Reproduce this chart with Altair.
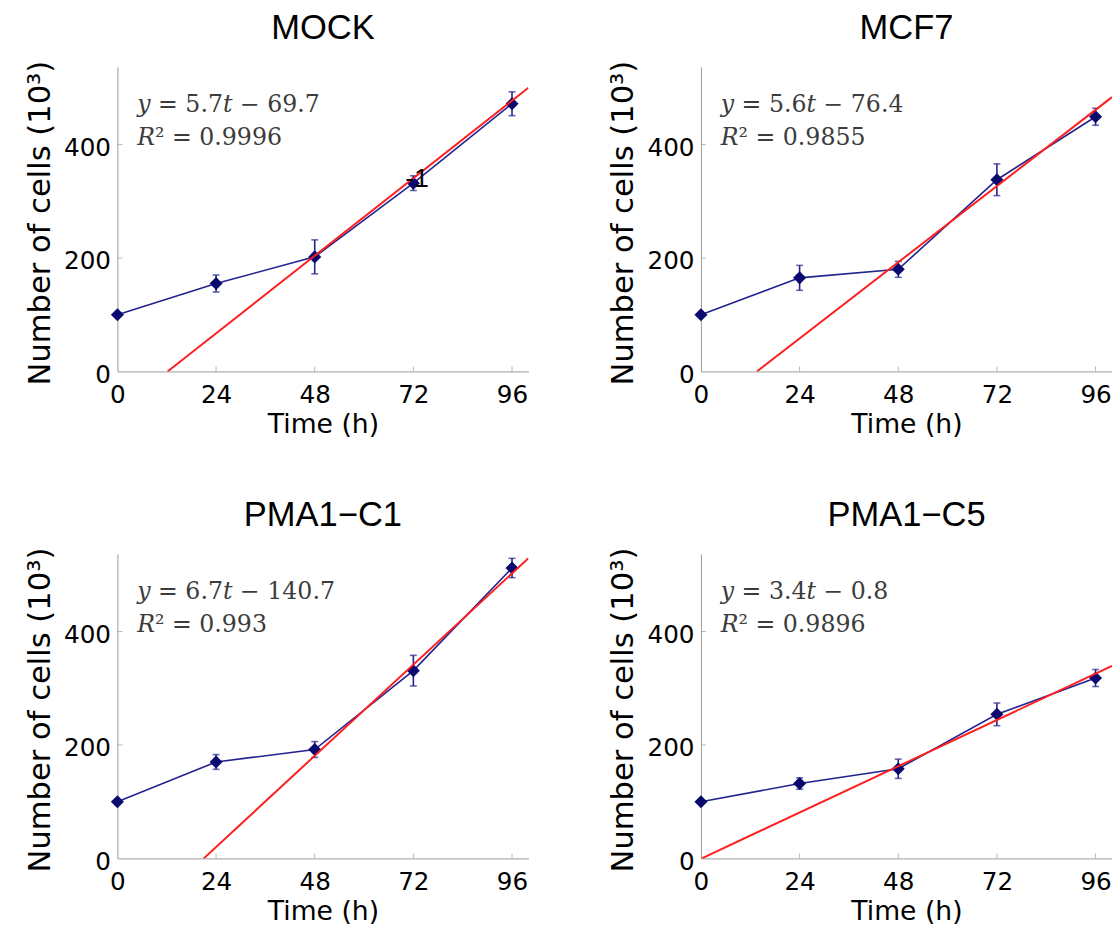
import altair as alt
import pandas as pd

# ---------------- data ----------------
panel_names = ["MOCK", "MCF7", "PMA1\u2212C1", "PMA1\u2212C5"]
time_h = [0, 24, 48, 72, 96]

mock_cells = [100, 155, 202, 332, 472]
mock_err = [0, 15, 30, 13, 21]
mcf7_cells = [100, 165, 180, 338, 449]
mcf7_err = [0, 22, 14, 28, 15]
pma1_c1_cells = [100, 170, 192, 331, 512]
pma1_c1_err = [0, 13, 14, 27, 17]
pma1_c5_cells = [100, 132, 158, 254, 318]
pma1_c5_err = [0, 10, 17, 20, 15]

# fitted (red) line end points
fit_start_t = [12.2, 13.6, 21.0, 0.2]
fit_start_n = [0, 0, 0, 0]
fit_end_t = [100, 100, 100, 100]
fit_end_n = [500.3, 483.6, 529.3, 339.2]

equations = ["\U0001D466 = 5.7\U0001D461 \u2212 69.7",
             "\U0001D466 = 5.6\U0001D461 \u2212 76.4",
             "\U0001D466 = 6.7\U0001D461 \u2212 140.7",
             "\U0001D466 = 3.4\U0001D461 \u2212 0.8"]
r_squared = ["\U0001D445\u00B2 = 0.9996", "\U0001D445\u00B2 = 0.9855",
             "\U0001D445\u00B2 = 0.993", "\U0001D445\u00B2 = 0.9896"]

x_ticks = [0, 24, 48, 72, 96]
y_ticks = [0, 200, 400]

stray_text = ["-1"]
stray_t = [70]
stray_n = [325]

cells_all = [mock_cells, mcf7_cells, pma1_c1_cells, pma1_c5_cells]
err_all = [mock_err, mcf7_err, pma1_c1_err, pma1_c5_err]

# ---------------- styling ----------------
W, H = 417, 309
NAVY_LINE = "#23238f"
NAVY_MARK = "#0a0a6e"
AXIS_GRAY = "#9a9a9a"
SANS = "Liberation Sans"
AXFONT = "DejaVu Sans"

xs = alt.Scale(domain=[0, 100], nice=False, zero=False)
ys = alt.Scale(domain=[0, 537], nice=False, zero=False)

x_axis = alt.Axis(values=x_ticks, title="Time (h)", grid=False, ticks=False, tickSize=0,
                  domainColor=AXIS_GRAY, domainWidth=1,
                  labelFont=AXFONT, labelFontSize=25, labelColor="black",
                  labelPadding=12, labelFlush=False, labelOverlap=False,
                  titleFont=AXFONT, titleFontSize=27, titleFontWeight="normal",
                  titleColor="black", titleBaseline="alphabetic",
                  titleX=W / 2, titleY=62)
y_axis = alt.Axis(values=y_ticks, title="Number of cells (10\u00B3)", grid=False,
                  ticks=False, tickSize=0,
                  domainColor=AXIS_GRAY, domainWidth=1,
                  labelFont=AXFONT, labelFontSize=25, labelColor="black",
                  labelPadding=7, labelFlush=False, labelOverlap=False, labelOffset=3,
                  titleFont=AXFONT, titleFontSize=31, titleFontWeight="normal",
                  titleColor="black", titleBaseline="alphabetic", titleAngle=270,
                  titleX=-69, titleY=158)


def X(field):
    return alt.X(field, type="quantitative", scale=xs, axis=x_axis)


def Y(field):
    return alt.Y(field, type="quantitative", scale=ys, axis=y_axis)


def make_panel(i):
    df = pd.DataFrame({
        "t": time_h,
        "n": cells_all[i],
        "lo": [c - e for c, e in zip(cells_all[i], err_all[i])],
        "hi": [c + e for c, e in zip(cells_all[i], err_all[i])],
    })
    base = alt.Chart(df)

    xt = pd.DataFrame({"t": x_ticks[1:], "n": [0] * (len(x_ticks) - 1)})
    yt = pd.DataFrame({"t": [0] * (len(y_ticks) - 1), "n": y_ticks[1:]})
    xtick = alt.Chart(xt).mark_tick(orient="vertical", size=5, thickness=1,
                                    yOffset=-2.5, color=AXIS_GRAY).encode(x=X("t"), y=Y("n"))
    ytick = alt.Chart(yt).mark_tick(orient="horizontal", size=5, thickness=1,
                                    xOffset=2.5, color=AXIS_GRAY).encode(x=X("t"), y=Y("n"))

    line = base.mark_line(color=NAVY_LINE, strokeWidth=1.6).encode(x=X("t"), y=Y("n"))
    err = base.mark_rule(color=NAVY_LINE, strokeWidth=1.6).encode(
        x=X("t"), y=Y("lo"), y2="hi")
    cap_lo = base.mark_tick(orient="horizontal", size=7, thickness=1.6,
                            color=NAVY_LINE).encode(x=X("t"), y=Y("lo"))
    cap_hi = base.mark_tick(orient="horizontal", size=7, thickness=1.6,
                            color=NAVY_LINE).encode(x=X("t"), y=Y("hi"))
    pts = base.mark_point(shape="diamond", filled=True, size=175, opacity=1,
                          color=NAVY_MARK).encode(x=X("t"), y=Y("n"))

    fit_df = pd.DataFrame({"t": [fit_start_t[i]], "n": [fit_start_n[i]],
                           "t2": [fit_end_t[i]], "n2": [fit_end_n[i]]})
    fit = alt.Chart(fit_df).mark_rule(color="#ff1e1e", strokeWidth=2, clip=True).encode(
        x=X("t"), y=Y("n"), x2="t2", y2="n2")

    ann_df = pd.DataFrame({"txt": [equations[i], r_squared[i]],
                           "t": [4.8, 4.8], "n": [457, 399]})
    ann = alt.Chart(ann_df).mark_text(align="left", baseline="alphabetic",
                                      font="DejaVu Serif", fontSize=24,
                                      color="#3c3c3c").encode(
        x=X("t"), y=Y("n"), text="txt:N")

    layers = [xtick, ytick, line, err, cap_lo, cap_hi, pts, fit, ann]
    if i == 0:
        st_df = pd.DataFrame({"txt": stray_text, "t": stray_t, "n": stray_n})
        st = alt.Chart(st_df).mark_text(align="left", baseline="alphabetic", font=SANS,
                                        fontSize=27, color="black").encode(
            x=X("t"), y=Y("n"), text="txt:N")
        layers.append(st)

    return alt.layer(*layers).properties(
        width=W, height=H,
        title=alt.TitleParams(text=panel_names[i], font=SANS, fontSize=35,
                              fontWeight="normal", color="black", anchor="middle",
                              offset=14.5))


row1 = alt.hconcat(make_panel(0), make_panel(1), spacing=80)
row2 = alt.hconcat(make_panel(2), make_panel(3), spacing=80)
chart = alt.vconcat(row1, row2, spacing=61).properties(
    padding={"left": 16, "top": -4, "right": 0, "bottom": 4},
    background="white",
).configure_view(stroke="transparent", strokeWidth=0)

chart.save("out.html", embed_options={"renderer": "svg", "actions": False})
